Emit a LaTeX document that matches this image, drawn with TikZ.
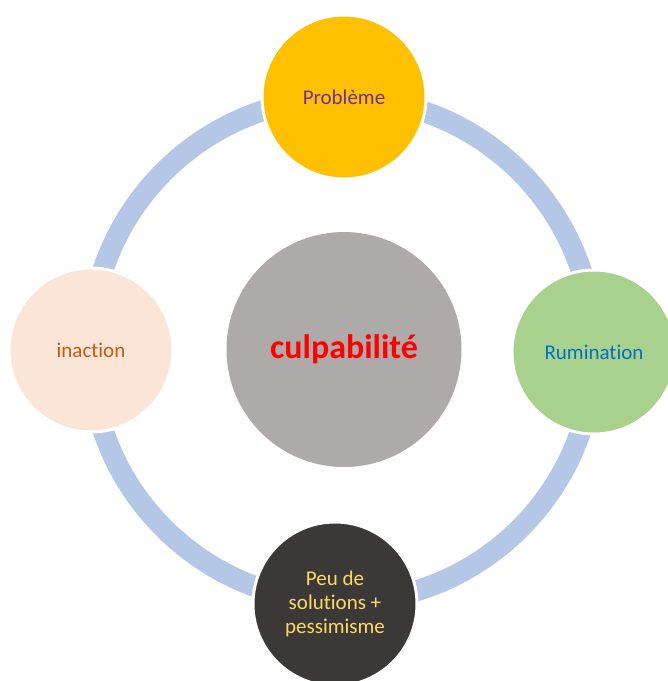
\documentclass[tikz,border=0pt]{standalone}
\usepackage{fontspec}
\setmainfont{Carlito}[Ligatures={NoCommon}]
\definecolor{ringblue}{HTML}{B4C7E7}
\definecolor{probfill}{HTML}{FFC000}
\definecolor{probtext}{HTML}{7030A0}
\definecolor{rumfill}{HTML}{A9D18E}
\definecolor{rumtext}{HTML}{0070C0}
\definecolor{peufill}{HTML}{3B3838}
\definecolor{peutext}{HTML}{FFD966}
\definecolor{inafill}{HTML}{FBE5D6}
\definecolor{inatext}{HTML}{C55A11}
\definecolor{corefill}{HTML}{AEAAAA}
\tikzset{
  stage/.style={circle, minimum size=164pt, inner sep=0pt, draw=white, line width=3pt,
    align=center, font=\fontsize{21}{24}\selectfont},
  core/.style={circle, minimum size=235pt, inner sep=0pt, fill=corefill,
    font=\fontsize{34}{40}\selectfont\bfseries, text=red},
}
\begin{document}
\begin{tikzpicture}[x=1pt,y=-1pt]
  \useasboundingbox (0,0) rectangle (668,681);
  \clip (0,0) rectangle (668,681);
  \coordinate (hub) at (342,350);
  % cycle ring
  \draw[ringblue, line width=21pt] (hub) circle[radius=252];
  % central node
  \node[core] (culp) at (344,349.5) {culpabilité};
  % nodes of the cycle
  \node[stage, fill=probfill, text=probtext] (prob) at (344,97) {Problème};
  \node[stage, fill=rumfill, text=rumtext] (rum) at (594,352) {Rumination};
  \node[stage, fill=peufill, text=peutext] (peu) at (335,604) {Peu de\\solutions +\\pessimisme};
  \node[stage, fill=inafill, text=inatext] (ina) at (91,350) {inaction};
\end{tikzpicture}
\end{document}
